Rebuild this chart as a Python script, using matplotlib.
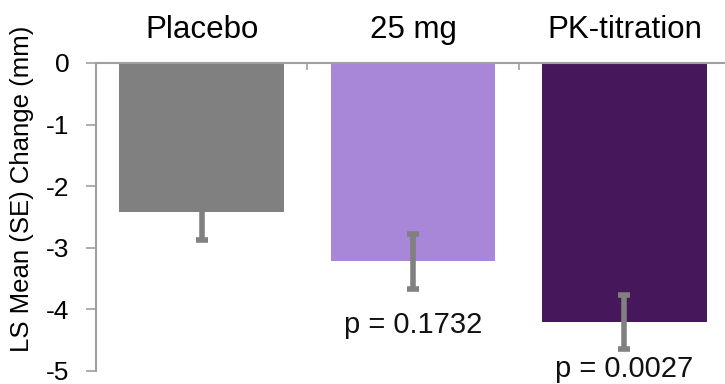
import matplotlib
matplotlib.use("Agg")
import matplotlib.pyplot as plt

categories = ["Placebo", "25 mg", "PK-titration"]
ls_mean = [-2.42, -3.22, -4.21]
se = [0.45, 0.45, 0.44]
p_labels = ["", "p = 0.1732", "p = 0.0027"]
p_label_y = [None, -4.38, -5.09]
bar_colors = ["#808080", "#A887D8", "#47175C"]

plt.rcParams["font.family"] = ["Liberation Sans", "DejaVu Sans"]

fig = plt.figure(figsize=(7.25, 3.84), dpi=100)
ax = fig.add_axes([96 / 725, 13 / 384, 634 / 725, 308 / 384])

x = list(range(len(categories)))
ax.bar(x, ls_mean, width=0.78, color=bar_colors, zorder=2)
ax.errorbar(x, ls_mean, yerr=se, fmt="none", ecolor="#808080",
            elinewidth=4, capsize=4.5, capthick=4, zorder=3)

for xi, lab, yl in zip(x, p_labels, p_label_y):
    if lab:
        ax.text(xi, yl, lab, ha="center", va="baseline", fontsize=21,
                color="#111111", clip_on=False)

ax.set_xlim(-0.5, 2.5)
ax.set_ylim(-5, 0)
ax.set_yticks([0, -1, -2, -3, -4, -5])
ax.set_yticklabels(["0", "-1", "-2", "-3", "-4", "-5"])
ax.set_ylabel("LS Mean (SE) Change (mm)", fontsize=18.5)
ax.yaxis.set_label_coords(-0.098, 0.59)

ax.xaxis.tick_top()
ax.set_xticks(x)
ax.set_xticklabels(categories, fontsize=22.5)
ax.set_xticks([0.5, 1.5], minor=True)
ax.tick_params(axis="x", which="major", length=0, pad=13)
ax.tick_params(axis="x", which="minor", direction="in", length=5,
               color="#A0A0A0", width=1.2)
ax.tick_params(axis="y", direction="out", length=7, color="#A0A0A0",
               width=1.2, labelsize=19, pad=12)

for side in ["right", "bottom"]:
    ax.spines[side].set_visible(False)
for side in ["left", "top"]:
    ax.spines[side].set_color("#A0A0A0")
    ax.spines[side].set_linewidth(1.5)

fig.savefig("out.png", dpi=100)
